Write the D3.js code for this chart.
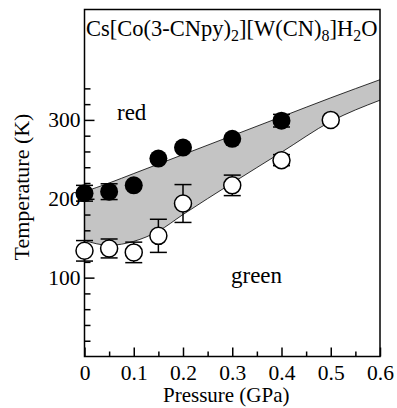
<!DOCTYPE html>
<html>
<head>
<meta charset="utf-8">
<script src="https://cdn.jsdelivr.net/npm/d3@7"></script>
<style>
  body { margin: 0; background: #fff; }
  svg text { font-family: "Liberation Serif", "DejaVu Serif", serif; fill: #000; }
</style>
</head>
<body>
<svg id="chart" width="397" height="408"></svg>
<script>
// pressure (GPa) of the measurements
const pressures = [0, 0.05, 0.1, 0.15, 0.2, 0.3, 0.4, 0.5];

// green -> red transition (filled), red -> green transition (open), in K
const tUp = [207, 209, 217, 251, 265, 276, 299, null];
const tUpErr = [10, 10, 0, 0, 0, 0, 8, 0];
const tDown = [134, 137, 132, 153, 194, 217, 249, 300];
const tDownErr = [13, 12, 13, 21, 24, 13, 7, 0];

// hysteresis band limits
const bandP = [0, 0.05, 0.1, 0.15, 0.2, 0.3, 0.4, 0.5, 0.6];
const bandUpper = [209, 220, 232, 244, 256, 280, 304, 328, 351];
const bandLower = [147, 141, 146, 159, 180, 220, 259, 298, 325];

const xTicks = [0, 0.1, 0.2, 0.3, 0.4, 0.5, 0.6];
const xMinor = [0.05, 0.15, 0.25, 0.35, 0.45, 0.55];
const yTicks = [100, 200, 300];
const yMinor = [20, 40, 60, 80, 120, 140, 160, 180, 220, 240, 260, 280, 320, 340];

const svg = d3.select('#chart');
const x = d3.scaleLinear().domain([0, 0.6]).range([84.5, 380]);
const y = d3.scaleLinear().domain([0, 440]).range([356.5, 9.5]);

// shaded band
const band = bandP.map((p, i) => ({ p, lo : bandLower[i], hi : bandUpper[i] }));
svg.append('path')
  .datum(band)
  .attr('fill', '#c4c4c4')
  .attr('d', d3.area().curve(d3.curveMonotoneX)
    .x((d) => x(d.p)).y0((d) => y(d.lo)).y1((d) => y(d.hi)));

['hi', 'lo'].forEach((k) => {
  svg.append('path')
    .datum(band)
    .attr('fill', 'none')
    .attr('stroke', '#000')
    .attr('stroke-width', 0.8)
    .attr('d', d3.line().curve(d3.curveMonotoneX).x((d) => x(d.p)).y((d) => y(d[k])));
});

// axes, ticks pointing inward
const fmt = (d) => (d === 0 ? '0' : d3.format('.1f')(d));
svg.append('g').attr('transform', `translate(0,${y(0)})`)
  .call(d3.axisBottom(x).tickValues(xTicks).tickFormat(fmt).tickSize(-9).tickPadding(8));
svg.append('g').attr('transform', `translate(0,${y(0)})`)
  .call(d3.axisBottom(x).tickValues(xMinor).tickFormat('').tickSize(-5));
svg.append('g').attr('transform', `translate(${x(0)},0)`)
  .call(d3.axisLeft(y).tickValues(yTicks).tickSize(-10).tickPadding(4));
svg.append('g').attr('transform', `translate(${x(0)},0)`)
  .call(d3.axisLeft(y).tickValues(yMinor).tickFormat('').tickSize(-6));

svg.selectAll('.domain').remove();
svg.selectAll('g').attr('font-family', null).attr('font-size', null);
svg.selectAll('.tick line').attr('stroke', '#000').attr('stroke-width', 1.5);
svg.selectAll('.tick text')
  .style('font-family', '"Liberation Serif", serif')
  .style('font-size', '21.5px');

// frame
svg.append('rect')
  .attr('x', x(0)).attr('y', y(440))
  .attr('width', x(0.6) - x(0)).attr('height', y(0) - y(440))
  .attr('fill', 'none').attr('stroke', '#000').attr('stroke-width', 1.5);

// error bars
function errorBars (vals, errs) {
  const pts = pressures.map((p, i) => ({ p, t : vals[i], e : errs[i] }))
    .filter((d) => d.t !== null && d.e > 0);
  const g = svg.append('g').attr('stroke', '#000').attr('stroke-width', 1.5);
  pts.forEach((d) => {
    g.append('line').attr('x1', x(d.p)).attr('x2', x(d.p))
      .attr('y1', y(d.t - d.e)).attr('y2', y(d.t + d.e));
    [d.t - d.e, d.t + d.e].forEach((v) => {
      g.append('line').attr('x1', x(d.p) - 8.5).attr('x2', x(d.p) + 8.5)
        .attr('y1', y(v)).attr('y2', y(v));
    });
  });
}
errorBars(tUp, tUpErr);
errorBars(tDown, tDownErr);

// markers
svg.append('g').selectAll('circle')
  .data(pressures.map((p, i) => ({ p, t : tDown[i] })))
  .enter().append('circle')
  .attr('cx', (d) => x(d.p)).attr('cy', (d) => y(d.t)).attr('r', 8.5)
  .attr('fill', '#fff').attr('stroke', '#000').attr('stroke-width', 1.5);

svg.append('g').selectAll('circle')
  .data(pressures.map((p, i) => ({ p, t : tUp[i] })).filter((d) => d.t !== null))
  .enter().append('circle')
  .attr('cx', (d) => x(d.p)).attr('cy', (d) => y(d.t)).attr('r', 9)
  .attr('fill', '#000');

// labels
const title = svg.append('text').attr('x', 86).attr('y', 36).style('font-size', '22.5px');
[['Cs[Co(3-CNpy)', 0], ['2', 1], [']', 0], ['[W(CN)', 0], ['8', 1], [']H', 0], ['2', 1], ['O', 0]]
  .reduce((prev, [s, sub]) => {
    const ts = title.append('tspan').text(s);
    if (sub) ts.attr('dy', 5).style('font-size', '16px');
    else if (prev) ts.attr('dy', -5);
    return sub;
  }, 0);

svg.append('text').attr('x', 117).attr('y', 120).style('font-size', '23px').text('red');
svg.append('text').attr('x', 231).attr('y', 283).style('font-size', '23px').text('green');

svg.append('text')
  .attr('x', (x(0) + x(0.6)) / 2 - 6).attr('y', 402)
  .attr('text-anchor', 'middle').style('font-size', '21px')
  .text('Pressure (GPa)');

svg.append('text')
  .attr('transform', `translate(29,${(y(0) + y(440)) / 2 + 4}) rotate(-90)`)
  .attr('text-anchor', 'middle').style('font-size', '22px')
  .text('Temperature (K)');
</script>
</body>
</html>
